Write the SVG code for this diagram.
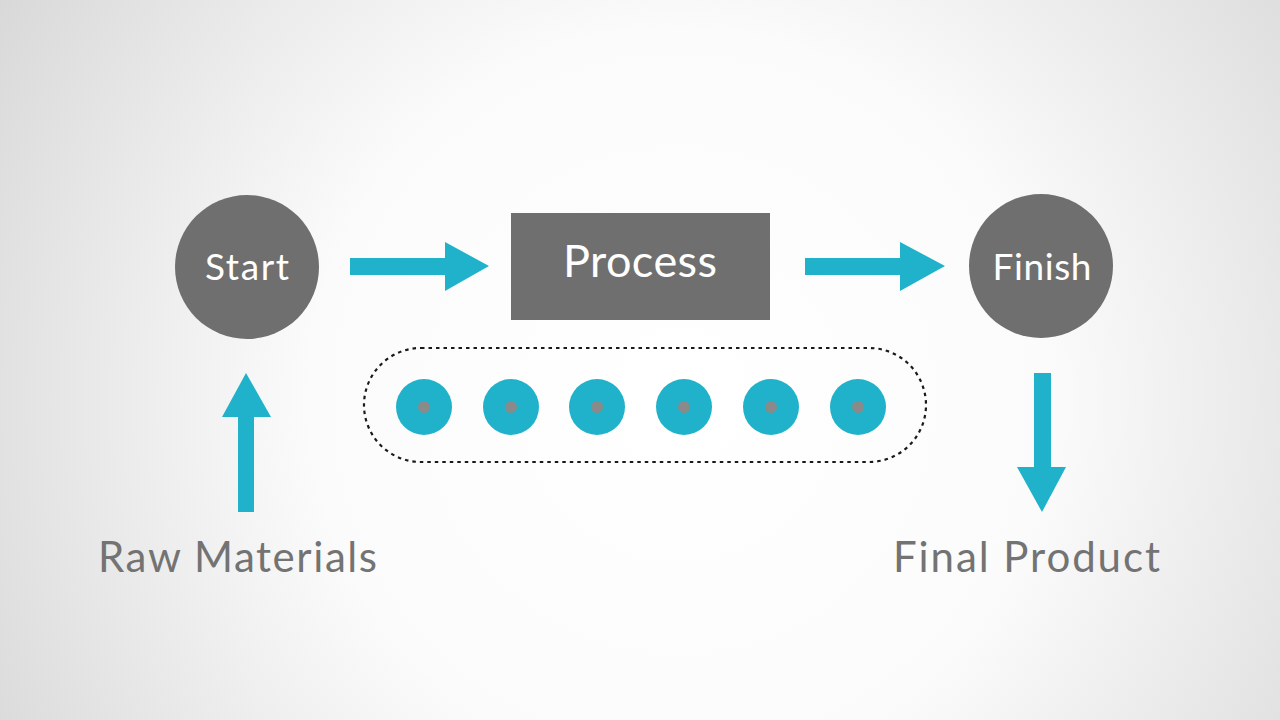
<svg xmlns="http://www.w3.org/2000/svg" width="1280" height="720" viewBox="0 0 1280 720">
  <defs>
    <radialGradient id="bg" cx="680" cy="400" r="820" gradientUnits="userSpaceOnUse">
      <stop offset="0" stop-color="#ffffff"/>
      <stop offset="0.45" stop-color="#fbfbfb"/>
      <stop offset="1" stop-color="#d6d6d6"/>
    </radialGradient>
    <style>
      .node { fill: #6f6f6f; }
      .nodetext { fill: #ffffff; font-family: Lato, "Noto Sans", sans-serif; text-anchor: middle; }
      .label { fill: #737373; font-family: Lato, "Noto Sans", sans-serif; font-size: 42px; }
      .arrow { fill: #20b2ca; }
      .bead { fill: #20b2ca; }
      .core { fill: #8a8a8a; }
    </style>
  </defs>
  <rect width="1280" height="720" fill="url(#bg)"/>

  <g id="connectors">
    <path class="arrow" d="M350,258 H445 V242 L489,266 L445,291 V275 H350 Z"/>
    <path class="arrow" d="M805,258 H900 V242 L945,266 L900,291 V275 H805 Z"/>
    <path class="arrow" d="M238,512 V417 H222 L246,373 L271,417 H254 V512 Z"/>
    <path class="arrow" d="M1034,373 V467 H1017 L1042,512 L1066,467 H1051 V373 Z"/>
  </g>

  <g id="start">
    <circle class="node" cx="247" cy="267" r="72"/>
    <text class="nodetext" x="247" y="280" font-size="37" textLength="84" lengthAdjust="spacing">Start</text>
  </g>
  <g id="process">
    <rect class="node" x="511" y="213" width="259" height="107"/>
    <text class="nodetext" x="640" y="277" font-size="45" textLength="154" lengthAdjust="spacing">Process</text>
  </g>
  <g id="finish">
    <circle class="node" cx="1041" cy="266" r="72"/>
    <text class="nodetext" x="1042" y="280" font-size="37" textLength="99" lengthAdjust="spacing">Finish</text>
  </g>

  <g id="queue">
    <rect x="364" y="348" width="562" height="114" rx="57" ry="57" fill="none" stroke="#1a1a1a" stroke-width="2.2" stroke-dasharray="3.5 4"/>
    <circle class="bead" cx="424" cy="407" r="28"/><circle class="core" cx="424" cy="407" r="6"/>
    <circle class="bead" cx="511" cy="407" r="28"/><circle class="core" cx="511" cy="407" r="6"/>
    <circle class="bead" cx="597" cy="407" r="28"/><circle class="core" cx="597" cy="407" r="6"/>
    <circle class="bead" cx="684" cy="407" r="28"/><circle class="core" cx="684" cy="407" r="6"/>
    <circle class="bead" cx="771" cy="407" r="28"/><circle class="core" cx="771" cy="407" r="6"/>
    <circle class="bead" cx="858" cy="407" r="28"/><circle class="core" cx="858" cy="407" r="6"/>
  </g>

  <g id="raw-materials">
    <text class="label" x="98" y="572" textLength="279" lengthAdjust="spacing">Raw Materials</text>
  </g>
  <g id="final-product">
    <text class="label" x="893" y="572" textLength="267" lengthAdjust="spacing">Final Product</text>
  </g>
</svg>
